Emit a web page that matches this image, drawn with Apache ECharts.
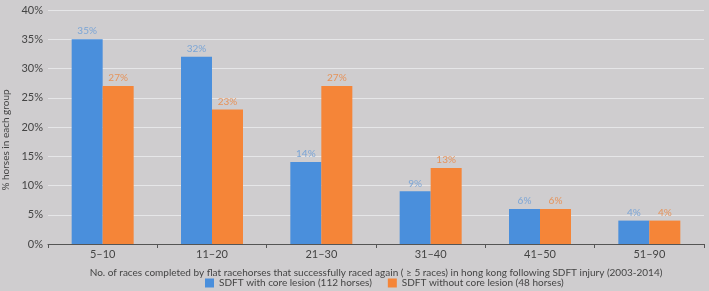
<!DOCTYPE html>
<html><head><meta charset="utf-8">
<script src="https://cdn.jsdelivr.net/npm/echarts@6/dist/echarts.min.js"></script>
<style>html,body{margin:0;padding:0;background:#cfcdcf}#c{width:709px;height:291px}</style>
</head><body><div id="c"></div>
<script>
const categories = ["5–10","11–20","21–30","31–40","41–50","51–90"];
const withCore = [35,32,14,9,6,4];
const withoutCore = [27,23,27,13,6,4];
const seriesNames = ["SDFT with core lesion (112 horses)","SDFT without core lesion (48 horses)"];
const xTitle = "No. of races completed by flat racehorses that successfully raced again ( ≥ 5 races) in hong kong following SDFT injury (2003-2014)";
const yTitle = "% horses in each group";

const chart = echarts.init(document.getElementById('c'), null, {renderer:'canvas'});
const font = "Lato";
chart.setOption({
  backgroundColor:'#cfcdcf',
  animation:false,
  grid:{left:48,right:5,top:10,bottom:47,containLabel:false,outerBoundsMode:'none'},
  legend:{top:273,left:200,itemWidth:9,itemHeight:9,itemGap:16,itemStyle:{borderWidth:0},icon:'rect',
    textStyle:{fontFamily:font,fontSize:10,color:'#444'},data:seriesNames},
  xAxis:{type:'category',data:categories,
    name:xTitle,nameLocation:'middle',nameGap:24,
    nameTextStyle:{fontFamily:font,fontSize:10,color:'#444'},
    axisLine:{lineStyle:{color:'#555',width:1}},
    axisTick:{show:true,lineStyle:{color:'#555'},length:4},
    axisLabel:{fontFamily:font,fontSize:11,color:'#444',margin:5}},
  yAxis:{type:'value',min:0,max:40,interval:5,
    name:yTitle,nameLocation:'middle',nameGap:37,
    nameTextStyle:{fontFamily:font,fontSize:10,color:'#444',padding:[0,26,0,0]},
    axisLabel:{formatter:'{value}%',fontFamily:font,fontSize:11,color:'#444',margin:5},
    axisLine:{show:false},axisTick:{show:false},
    splitLine:{lineStyle:{color:'#e6e6e8',width:1}}},
  series:[
    {name:seriesNames[0],type:'bar',data:withCore,barWidth:31,barGap:'0%',
      itemStyle:{color:'#4a8fdc'},
      label:{show:true,position:'top',formatter:'{c}%',fontFamily:font,fontSize:10,color:'#7ba5d6',distance:3}},
    {name:seriesNames[1],type:'bar',data:withoutCore,barWidth:31,
      itemStyle:{color:'#f58538'},
      label:{show:true,position:'top',formatter:'{c}%',fontFamily:font,fontSize:10,color:'#e6935a',distance:3}}
  ]
});
</script></body></html>
